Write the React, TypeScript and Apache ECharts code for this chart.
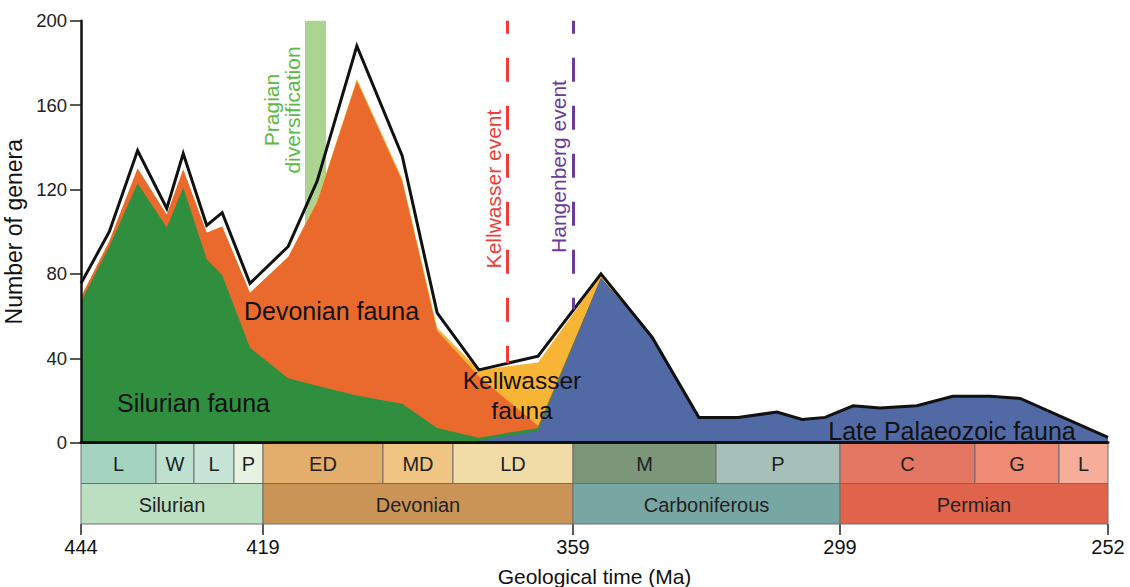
import React, { useEffect, useRef } from "react";
import * as echarts from "echarts";

const FONT = "'Liberation Sans', Arial, Helvetica, sans-serif";

// Non-linear geological time scale: boundary ages and their relative axis positions
const SCALE_AGE = [444, 433.4, 427.4, 423, 419, 393.3, 382.7, 359, 323.2, 299, 272.3, 259.1, 252];
const SCALE_POS = [0, 75, 113, 153, 182, 302, 372, 492, 635, 759, 894, 978, 1027];

function maToX(ma: number): number {
  for (let i = 0; i < SCALE_AGE.length - 1; i++) {
    const a0 = SCALE_AGE[i], a1 = SCALE_AGE[i + 1];
    if (ma <= a0 && ma >= a1) {
      return SCALE_POS[i] + ((a0 - ma) / (a0 - a1)) * (SCALE_POS[i + 1] - SCALE_POS[i]);
    }
  }
  return ma > SCALE_AGE[0] ? SCALE_POS[0] : SCALE_POS[SCALE_POS.length - 1];
}

// Data (Ma, number of genera)
const AGES = [444, 440, 436, 431.7, 429.1, 426.0, 424.3, 420.8, 413.6, 407.4, 398.9, 390.4, 385.1, 377.6, 365.9, 352.0, 339.2, 327.5, 318.9, 311.3, 306.4, 301.9, 296.4, 291.1, 283.8, 276.7, 269.9, 265.2, 252];
const TOTAL = [75.5, 100, 138.5, 111, 137, 103, 109, 75.5, 93, 124, 188, 136, 61.5, 34.5, 41, 80, 50, 12, 12, 14.5, 11, 12, 17.5, 16.5, 17.5, 22, 22, 21, 2.5];
const LATE_PALAEOZOIC = [0, 0, 0, 0, 0, 0, 0, 0, 0, 0, 0, 0, 0, 0.8, 5.5, 78, 50, 12, 12, 14.5, 11, 12, 17.5, 16.5, 17.5, 22, 22, 21, 2.5];
const SILURIAN = [67, 93, 123, 102, 121, 87, 79.5, 45, 30.5, 27, 22.4, 18.5, 7, 1.6, 1.5, 0, 0, 0, 0, 0, 0, 0, 0, 0, 0, 0, 0, 0, 0];
const DEVONIAN = [2, 2.5, 7, 6, 8.5, 12.5, 23, 26, 57.5, 87, 149, 105.5, 46, 29, 1, 0, 0, 0, 0, 0, 0, 0, 0, 0, 0, 0, 0, 0, 0];
const KELLWASSER = [0, 0, 0, 0, 0, 0, 0, 0, 0, 0.8, 1, 1.2, 1.5, 3, 30, 1.5, 0, 0, 0, 0, 0, 0, 0, 0, 0, 0, 0, 0, 0];

const X_TICK_AGES = [444, 419, 359, 299, 252];

const PRAGIAN = [410, 405.5];
const KELLWASSER_EVENT = 372;
const HANGENBERG_EVENT = 359;

const STAGE_NAMES = ["L", "W", "L", "P", "ED", "MD", "LD", "M", "P", "C", "G", "L"];
const STAGE_START = [444, 433.4, 427.4, 423, 419, 393.3, 382.7, 359, 323.2, 299, 272.3, 259.1];
const STAGE_END = [433.4, 427.4, 423, 419, 393.3, 382.7, 359, 323.2, 299, 272.3, 259.1, 252];
const STAGE_COLORS = ["#a4d4c0", "#bde0cf", "#c7e4d7", "#e7f2e3", "#e3ad6c", "#f0c583", "#f1dca8", "#7b9678", "#a6bfb8", "#e37764", "#ef8b75", "#f6ad99"];

const PERIOD_NAMES = ["Silurian", "Devonian", "Carboniferous", "Permian"];
const PERIOD_START = [444, 419, 359, 299];
const PERIOD_END = [419, 359, 299, 252];
const PERIOD_COLORS = ["#bcdfc1", "#c99456", "#78a6a2", "#e0634b"];

const COLORS = {
  blue: "#5169a5",
  green: "#2f8f3e",
  orange: "#ea6a2e",
  yellow: "#f8b535",
  pragian: "#acd390",
  pragianText: "#5cb946",
  red: "#ec3d3a",
  purple: "#6a3b97",
};

export default function App() {
  const ref = useRef<HTMLDivElement>(null);
  useEffect(() => {
    if (!ref.current) return;
    const chart = echarts.init(ref.current, null, { renderer: "svg" });
    const pts = (vals: number[]) => AGES.map((a, i) => [maToX(a), vals[i]]);
    const xMax = SCALE_POS[SCALE_POS.length - 1];
    const tickPos = X_TICK_AGES.map(maToX);

    // cumulative layers (bottom → top): Late Palaeozoic, Silurian, Devonian, Kellwasser
    const layers = [LATE_PALAEOZOIC, SILURIAN, DEVONIAN, KELLWASSER];
    const cum: number[][] = [];
    layers.forEach((arr, k) => {
      cum.push(arr.map((v, i) => v + (k > 0 ? cum[k - 1][i] : 0)));
    });

    const area = (name: string, vals: number[], color: string, z: number, extra: any = {}) => ({
      name,
      type: "line",
      xAxisIndex: 0,
      yAxisIndex: 0,
      data: pts(vals),
      symbol: "none",
      lineStyle: { width: 0 },
      areaStyle: { color, opacity: 1, origin: "start" },
      z,
      ...extra,
    });

    const bandData: number[][] = [];
    const bandNames: string[] = [];
    const bandColors: string[] = [];
    STAGE_NAMES.forEach((n, i) => {
      bandData.push([maToX(STAGE_START[i]), maToX(STAGE_END[i]), 1]);
      bandNames.push(n);
      bandColors.push(STAGE_COLORS[i]);
    });
    PERIOD_NAMES.forEach((n, i) => {
      bandData.push([maToX(PERIOD_START[i]), maToX(PERIOD_END[i]), 0]);
      bandNames.push(n);
      bandColors.push(PERIOD_COLORS[i]);
    });

    const kwEnd = 37.6;
    const hgEnd = 63.3;

    const txt = (text: string, x: number, y: number, extra: any = {}) => ({
      type: "text",
      x,
      y,
      z: 10,
      silent: true,
      style: { text, fontSize: 25, fill: "#111", align: "center", verticalAlign: "middle", fontFamily: FONT, ...extra },
    });

    const option: any = {
      animation: false,
      backgroundColor: "#ffffff",
      textStyle: { fontFamily: FONT },
      grid: [
        { left: 81, right: 22, top: 20.7, height: 422, outerBoundsMode: "none", containLabel: false },
        { left: 81, right: 22, top: 443, height: 81, outerBoundsMode: "none", containLabel: false },
      ],
      xAxis: [
        {
          type: "value",
          gridIndex: 0,
          min: 0,
          max: xMax,
          axisLine: { show: true, onZero: false, lineStyle: { color: "#111", width: 3 } },
          axisTick: { show: false },
          axisLabel: { show: false },
          splitLine: { show: false },
          z: 6,
        },
        {
          type: "value",
          gridIndex: 1,
          min: 0,
          max: xMax,
          position: "bottom",
          axisLine: { show: false },
          axisTick: { show: true, customValues: tickPos, length: 11, lineStyle: { color: "#222", width: 1.5 } },
          axisLabel: {
            show: true,
            customValues: tickPos,
            margin: 13,
            fontSize: 20,
            color: "#111",
            fontFamily: FONT,
            formatter: (v: number) => {
              const i = tickPos.findIndex((p) => Math.abs(p - v) < 0.5);
              return i >= 0 ? String(X_TICK_AGES[i]) : "";
            },
          },
          splitLine: { show: false },
          name: "Geological time (Ma)",
          nameLocation: "middle",
          nameGap: 42,
          nameTextStyle: { fontSize: 21, color: "#111", fontFamily: FONT },
        },
      ],
      yAxis: [
        {
          type: "value",
          gridIndex: 0,
          min: 0,
          max: 200,
          interval: 40,
          axisLine: { show: true, lineStyle: { color: "#111", width: 2.5 } },
          axisTick: { show: true, length: 11, lineStyle: { color: "#222", width: 1.5 } },
          axisLabel: { fontSize: 18.5, color: "#222", margin: 14, fontFamily: FONT },
          splitLine: { show: false },
          name: "Number of genera",
          nameLocation: "middle",
          nameGap: 48,
          nameTextStyle: { fontSize: 23, color: "#111", fontFamily: FONT },
          z: 6,
        },
        {
          type: "value",
          gridIndex: 1,
          min: 0,
          max: 2,
          show: false,
        },
      ],
      series: [
        area("Kellwasser fauna", cum[3], COLORS.yellow, 3, {
          markArea: {
            silent: true,
            z: 1,
            itemStyle: { color: COLORS.pragian },
            data: [[{ xAxis: maToX(PRAGIAN[0]), yAxis: 200 }, { xAxis: maToX(PRAGIAN[1]), yAxis: 0 }]],
          },
        }),
        area("Devonian fauna", cum[2], COLORS.orange, 3),
        area("Silurian fauna", cum[1], COLORS.green, 3),
        area("Late Palaeozoic fauna", cum[0], COLORS.blue, 3),
        {
          name: "Total",
          type: "line",
          xAxisIndex: 0,
          yAxisIndex: 0,
          data: pts(TOTAL),
          symbol: "none",
          lineStyle: { color: "#111", width: 3, join: "miter" },
          z: 4,
          markLine: {
            silent: true,
            symbol: ["none", "none"],
            label: { show: false },
            lineStyle: { type: [24, 24], width: 3, dashOffset: 10.7 },
            data: [
              [
                { coord: [maToX(KELLWASSER_EVENT), 200], lineStyle: { color: COLORS.red, type: [24, 24], width: 3, dashOffset: 10.7 } },
                { coord: [maToX(KELLWASSER_EVENT), kwEnd] },
              ],
              [
                { coord: [maToX(HANGENBERG_EVENT), 200], lineStyle: { color: COLORS.purple, type: [24, 24], width: 3, dashOffset: 10.7 } },
                { coord: [maToX(HANGENBERG_EVENT), hgEnd] },
              ],
            ],
          },
        },
        {
          name: "Time scale",
          type: "custom",
          xAxisIndex: 1,
          yAxisIndex: 1,
          silent: true,
          data: bandData,
          renderItem: (params: any, api: any) => {
            const i = params.dataIndex;
            const s = api.coord([api.value(0), api.value(2) + 1]);
            const e = api.coord([api.value(1), api.value(2)]);
            return {
              type: "group",
              children: [
                {
                  type: "rect",
                  shape: { x: s[0], y: s[1], width: e[0] - s[0], height: e[1] - s[1] },
                  style: { fill: bandColors[i], stroke: "#6e6e6e", lineWidth: 1 },
                },
                {
                  type: "text",
                  style: {
                    text: bandNames[i],
                    x: (s[0] + e[0]) / 2,
                    y: (s[1] + e[1]) / 2 + 1,
                    align: "center",
                    verticalAlign: "middle",
                    fontSize: 20,
                    fill: "#222",
                    fontFamily: FONT,
                  },
                },
              ],
            };
          },
        },
      ],
      graphic: [
        txt("Silurian fauna", 193.5, 403),
        txt("Devonian fauna", 331.5, 311),
        txt("Kellwasser", 522, 380.5, { fontSize: 24.5 }),
        txt("fauna", 522, 410, { fontSize: 24.5 }),
        txt("Late Palaeozoic fauna", 952, 431),
        { ...txt("Pragian\ndiversification", 281.5, 110, { fontSize: 21, lineHeight: 21, fill: COLORS.pragianText }), rotation: Math.PI / 2 },
        { ...txt("Kellwasser event", 493, 189, { fontSize: 21, fill: COLORS.red }), rotation: Math.PI / 2 },
        { ...txt("Hangenberg event", 558.5, 166.5, { fontSize: 21, fill: COLORS.purple }), rotation: Math.PI / 2 },
      ],
    };
    chart.setOption(option);
    return () => chart.dispose();
  }, []);
  return <div ref={ref} style={{ position: "fixed", left: 0, top: 0, width: 1130, height: 587 }} />;
}
